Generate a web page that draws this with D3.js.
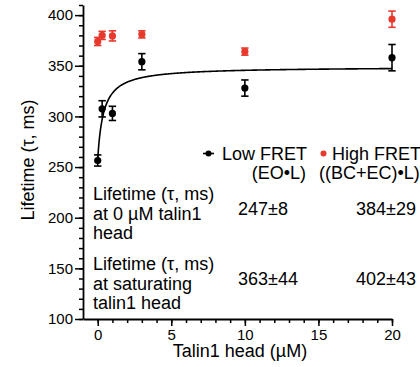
<!DOCTYPE html>
<html>
<head>
<meta charset="utf-8">
<script src="https://cdn.jsdelivr.net/npm/d3@7"></script>
<style>
  body { margin: 0; background: #fff; }
  text { font-family: "Liberation Sans", Arial, sans-serif; fill: #000; }
</style>
</head>
<body>
<div id="chart"></div>
<script>
var svgWidth = 420;
var svgHeight = 367;

// plot area (pixels)
var margin = { top: 5, right: 28, bottom: 48, left: 83 };
var width = svgWidth - margin.left - margin.right;
var height = svgHeight - margin.top - margin.bottom;

// data
var concentrations = [0, 0.3, 1, 3, 10, 20];
var lowFret = [256.5, 307.5, 303, 354, 328, 358];
var lowFretErr = [5.5, 8, 7, 8, 8, 13];
var highFret = [374, 380, 379.5, 381, 364, 396];
var highFretErr = [4, 4, 5, 3.5, 3.5, 8];

// hyperbolic fit to low FRET
var fitBase = 258;
var fitAmp = 91;
var fitKd = 0.4;

var xTicks = [0, 5, 10, 15, 20];
var yTicks = [100, 150, 200, 250, 300, 350, 400];

var redColor = "#e8392d";

var svg = d3.select("#chart")
  .append("svg")
  .attr("width", svgWidth)
  .attr("height", svgHeight);

var chartGroup = svg.append("g")
  .attr("transform", `translate(${margin.left}, ${margin.top})`);

var xScale = d3.scaleLinear().domain([-1, 20]).range([0, width]);
var yScale = d3.scaleLinear().domain([100, 410]).range([height, 0]);

// minor ticks
chartGroup.append("g")
  .attr("transform", `translate(0, ${height})`)
  .call(d3.axisBottom(xScale).tickValues(d3.range(0, 21, 1)).tickSize(4).tickFormat(""))
  .call(g => g.select(".domain").remove())
  .selectAll("line").attr("stroke-width", 1.5);

chartGroup.append("g")
  .call(d3.axisLeft(yScale).tickValues(d3.range(100, 411, 10)).tickSize(4).tickFormat(""))
  .call(g => g.select(".domain").remove())
  .selectAll("line").attr("stroke-width", 1.5);

// major axes
var xAxis = chartGroup.append("g")
  .attr("transform", `translate(0, ${height})`)
  .call(d3.axisBottom(xScale).tickValues(xTicks).tickSize(7).tickSizeOuter(0).tickPadding(3));

var yAxis = chartGroup.append("g")
  .call(d3.axisLeft(yScale).tickValues(yTicks).tickSize(8).tickSizeOuter(0).tickPadding(2));

[xAxis, yAxis].forEach(function(ax) {
  ax.select(".domain").attr("stroke-width", 1.8);
  ax.selectAll("line").attr("stroke-width", 1.5);
  ax.selectAll("text")
    .attr("font-size", "15px")
    .attr("font-family", "Liberation Sans, Arial, sans-serif")
    .attr("fill", "#000");
});

// axis titles
svg.append("text")
  .attr("x", 240)
  .attr("y", 357)
  .attr("text-anchor", "middle")
  .attr("font-size", "18px")
  .text("Talin1 head (µM)");

svg.append("text")
  .attr("transform", "rotate(-90)")
  .attr("x", -160)
  .attr("y", 34)
  .attr("text-anchor", "middle")
  .attr("font-size", "18px")
  .text("Lifetime (τ, ms)");

// fit curve
var fitLine = d3.line()
  .x(d => xScale(d))
  .y(d => yScale(fitBase + fitAmp * d / (fitKd + d)));

chartGroup.append("path")
  .datum(d3.range(0, 20.001, 0.05))
  .attr("d", fitLine)
  .attr("fill", "none")
  .attr("stroke", "#000")
  .attr("stroke-width", 1.6);

// error bars + points
function drawSeries(values, errs, color) {
  var g = chartGroup.append("g");
  var pts = g.selectAll("g")
    .data(concentrations.map((c, i) => ({ x: c, y: values[i], e: errs[i] })))
    .enter()
    .append("g")
    .attr("stroke", color)
    .attr("stroke-width", 1.6);

  pts.append("line")
    .attr("x1", d => xScale(d.x)).attr("x2", d => xScale(d.x))
    .attr("y1", d => yScale(d.y - d.e)).attr("y2", d => yScale(d.y + d.e));
  pts.append("line")
    .attr("x1", d => xScale(d.x) - 3.7).attr("x2", d => xScale(d.x) + 3.7)
    .attr("y1", d => yScale(d.y - d.e)).attr("y2", d => yScale(d.y - d.e));
  pts.append("line")
    .attr("x1", d => xScale(d.x) - 3.7).attr("x2", d => xScale(d.x) + 3.7)
    .attr("y1", d => yScale(d.y + d.e)).attr("y2", d => yScale(d.y + d.e));
  pts.append("circle")
    .attr("cx", d => xScale(d.x))
    .attr("cy", d => yScale(d.y))
    .attr("r", 3.6)
    .attr("stroke", "none")
    .attr("fill", color);
}

drawSeries(highFret, highFretErr, redColor);
drawSeries(lowFret, lowFretErr, "#000");

// legend
svg.append("line")
  .attr("x1", 203).attr("x2", 214)
  .attr("y1", 153.5).attr("y2", 153.5)
  .attr("stroke", "#000").attr("stroke-width", 1.6);
svg.append("circle").attr("cx", 208.5).attr("cy", 153.5).attr("r", 3).attr("fill", "#000");
svg.append("text").attr("x", 222).attr("y", 160).attr("font-size", "18px").text("Low FRET");
svg.append("text").attr("x", 306).attr("y", 179).attr("text-anchor", "end").attr("font-size", "18px").text("(EO•L)");

svg.append("circle").attr("cx", 323.5).attr("cy", 153.5).attr("r", 3).attr("fill", redColor);
svg.append("text").attr("x", 332).attr("y", 160).attr("font-size", "18px").text("High FRET");
svg.append("text").attr("x", 319).attr("y", 179).attr("font-size", "18px").text("((BC+EC)•L)");

// table of lifetimes
var rowLabels = [
  ["Lifetime (τ, ms)", "at 0 µM talin1", "head"],
  ["Lifetime (τ, ms)", "at saturating", "talin1 head"]
];
var lowValues = ["247±8", "363±44"];
var highValues = ["384±29", "402±43"];
var rowTop = [200, 270];

rowLabels.forEach(function(lines, r) {
  lines.forEach(function(t, k) {
    svg.append("text")
      .attr("x", 93)
      .attr("y", rowTop[r] + k * 19.7)
      .attr("font-size", "18px")
      .text(t);
  });
  svg.append("text")
    .attr("x", 238)
    .attr("y", rowTop[r] + 15)
    .attr("font-size", "18px")
    .text(lowValues[r]);
  svg.append("text")
    .attr("x", 356)
    .attr("y", rowTop[r] + 15)
    .attr("font-size", "18px")
    .text(highValues[r]);
});
</script>
</body>
</html>
